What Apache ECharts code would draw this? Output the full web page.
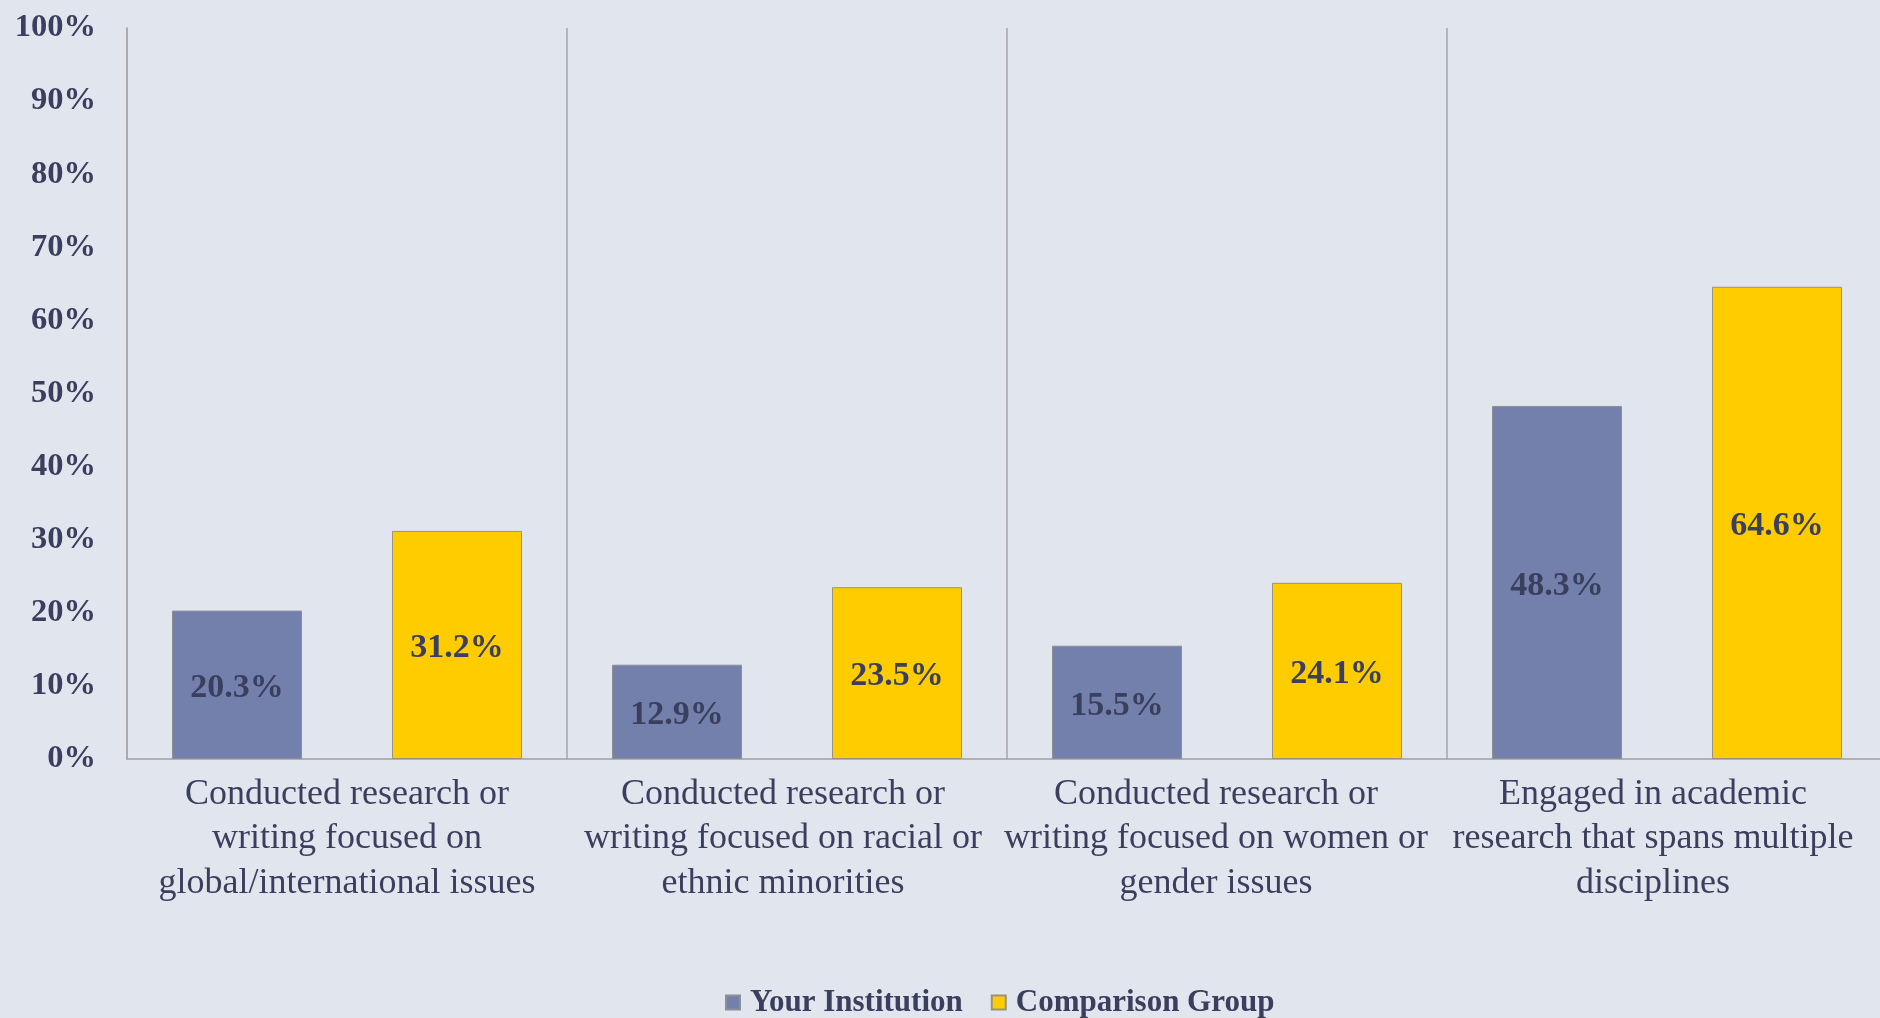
<!DOCTYPE html>
<html>
<head>
<meta charset="utf-8">
<script src="https://cdn.jsdelivr.net/npm/echarts@6/dist/echarts.min.js"></script>
<style>
html,body{margin:0;padding:0;background:#E1E5EE;}
#chart{width:1880px;height:1018px;}
</style>
</head>
<body>
<div id="chart"></div>
<script>
const categories = [
  "Conducted research or\nwriting focused on\nglobal/international issues",
  "Conducted research or\nwriting focused on racial or\nethnic minorities",
  "Conducted research or\nwriting focused on women or\ngender issues",
  "Engaged in academic\nresearch that spans multiple\ndisciplines"
];
const seriesNames = ["Your Institution", "Comparison Group"];
const yourInstitution = [20.3, 12.9, 15.5, 48.3];
const comparisonGroup = [31.2, 23.5, 24.1, 64.6];
const yTicks = { min: 0, max: 100, interval: 10 };

const textColor = "#3A3F5E";
const font = "'Liberation Serif', 'DejaVu Serif', serif";

// labels nudged left as in the original layout (right padding, in px)
const labelNudge = [0, 8, 22, 28];
const xData = categories.map((c, i) => labelNudge[i]
  ? { value: c, textStyle: { padding: [0, labelNudge[i], 0, 0] } }
  : c);

const chart = echarts.init(document.getElementById('chart'), null, {renderer: 'canvas'});
chart.setOption({
  backgroundColor: "#E1E5EE",
  animation: false,
  grid: { left: 127, width: 1760, top: 28, bottom: 259, containLabel: false, outerBoundsMode: 'none' },
  legend: {
    data: seriesNames,
    left: 725,
    top: 987,
    padding: 0,
    icon: 'rect',
    itemWidth: 14,
    itemHeight: 14,
    itemGap: 28,
    textStyle: { fontFamily: font, fontWeight: 'bold', fontSize: 31, color: textColor, padding: [0, 0, 0, 5] }
  },
  xAxis: {
    type: 'category',
    data: xData,
    axisLine: { show: true, lineStyle: { color: '#A0A0A6', width: 1.5 } },
    axisTick: { show: false },
    splitLine: { show: true, lineStyle: { color: '#A6A6AC', width: 1.5 } },
    axisLabel: {
      interval: 0,
      margin: 13,
      fontFamily: font,
      fontSize: 36,
      lineHeight: 44.5,
      color: textColor,
      align: 'center'
    }
  },
  yAxis: {
    type: 'value',
    min: yTicks.min,
    max: yTicks.max,
    interval: yTicks.interval,
    axisLine: { show: true, lineStyle: { color: '#A6A6AC', width: 1.5 } },
    axisTick: { show: false },
    splitLine: { show: false },
    axisLabel: {
      formatter: '{value}%',
      margin: 31,
      fontFamily: font,
      fontWeight: 'bold',
      fontSize: 32.5,
      color: textColor
    }
  },
  series: [
    {
      name: seriesNames[0],
      type: 'bar',
      data: yourInstitution,
      barGap: '69.2%',
      barCategoryGap: '20.45%',
      itemStyle: { color: '#7480AC', borderColor: '#8E8E96', borderWidth: 1 },
      label: {
        show: true, position: 'inside', offset: [0, 3.5],
        formatter: p => p.value.toFixed(1) + '%',
        fontFamily: font, fontWeight: 'bold', fontSize: 34, color: textColor
      }
    },
    {
      name: seriesNames[1],
      type: 'bar',
      data: comparisonGroup,
      barGap: '69.2%',
      barCategoryGap: '20.45%',
      itemStyle: { color: '#FFCC00', borderColor: '#9A9280', borderWidth: 1 },
      label: {
        show: true, position: 'inside', offset: [0, 3.5],
        formatter: p => p.value.toFixed(1) + '%',
        fontFamily: font, fontWeight: 'bold', fontSize: 34, color: textColor
      }
    }
  ]
});
</script>
</body>
</html>
